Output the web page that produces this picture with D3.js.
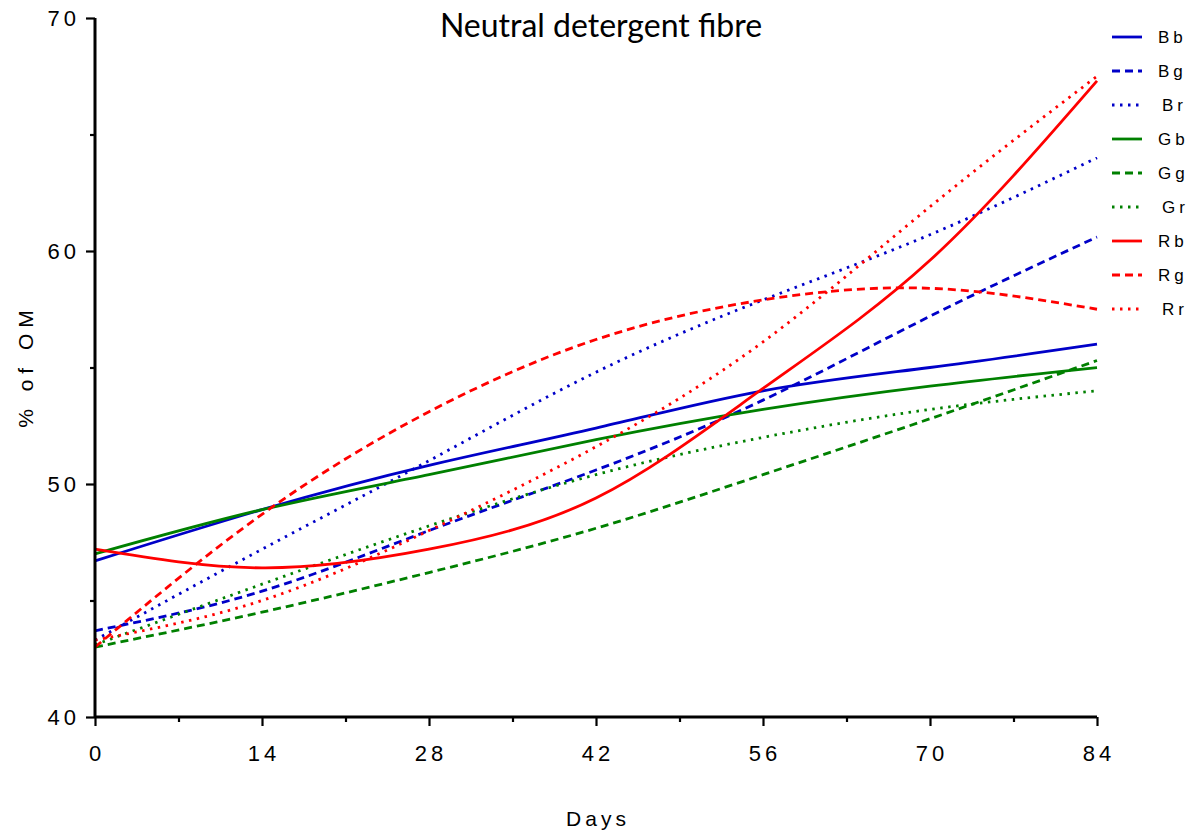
<!DOCTYPE html>
<html>
<head>
<meta charset="utf-8">
<script src="https://cdn.jsdelivr.net/npm/d3@7"></script>
<style>
  body { margin: 0; background: #fff; }
  text { font-family: "Liberation Sans", Arial, sans-serif; }
</style>
</head>
<body>
<div id="chart"></div>
<script>
// data
var days = [0, 14, 28, 42, 56, 70, 84];
var Bb = [46.7, 48.9, 50.8, 52.4, 54.0, 55.0, 56.0];
var Bg = [43.7, 45.4, 48.0, 50.6, 53.6, 57.2, 60.6];
var Br = [43.3, 47.2, 51.0, 54.8, 57.9, 60.7, 64.0];
var Gb = [47.0, 48.9, 50.4, 51.9, 53.2, 54.2, 55.0];
var Gg = [43.0, 44.5, 46.2, 48.1, 50.4, 52.8, 55.3];
var Gr = [43.1, 45.7, 48.2, 50.4, 52.0, 53.2, 54.0];
var Rb = [47.2, 46.4, 47.2, 49.4, 54.1, 59.6, 67.3];
var Rg = [43.0, 48.7, 53.1, 56.2, 57.9, 58.4, 57.5];
var Rr = [43.3, 45.0, 48.0, 51.6, 56.1, 61.9, 67.5];
var seriesNames = ['Bb', 'Bg', 'Br', 'Gb', 'Gg', 'Gr', 'Rb', 'Rg', 'Rr'];
var seriesValues = [Bb, Bg, Br, Gb, Gg, Gr, Rb, Rg, Rr];
var xTicks = [0, 14, 28, 42, 56, 70, 84];
var yTicks = [40, 50, 60, 70];

var chart_width = 1194;
var chart_height = 832;
var colors = { B: '#0000c8', G: '#008000', R: '#ff0000' };
var dashes = { b: null, g: '8,5', r: '2.5,5.5' };

var svg = d3.select('#chart')
	.append('svg')
	.attr('width', chart_width)
	.attr('height', chart_height);

var x = d3.scaleLinear().domain([0, 84]).range([95, 1097]);
var y = d3.scaleLinear().domain([40, 70]).range([717, 18]);

// title
svg.append('text')
	.attr('x', 601)
	.attr('y', 37)
	.attr('text-anchor', 'middle')
	.style('font-family', 'Lato, "Open Sans", sans-serif')
	.attr('font-size', 32)
	.text('Neutral detergent fibre');

// lines
var line = d3.line()
	.x(function(d){ return x(d[0]); })
	.y(function(d){ return y(d[1]); })
	.curve(d3.curveNatural);

seriesNames.forEach(function(name, i){
	var pts = days.map(function(d, j){ return [d, seriesValues[i][j]]; });
	svg.append('path')
		.datum(pts)
		.attr('d', line)
		.attr('fill', 'none')
		.attr('stroke', colors[name[0]])
		.attr('stroke-width', 2.8)
		.attr('stroke-dasharray', dashes[name[1]]);
});

// x axis
var xAxis = svg.append('g')
	.attr('transform', 'translate(0,717)')
	.call(d3.axisBottom(x).tickValues(d3.range(0, 85, 7)).tickSize(8).tickFormat(''));
xAxis.select('.domain').attr('stroke-width', 3).attr('d', 'M95,0H1097');
xAxis.selectAll('.tick line')
	.attr('stroke-width', 2.2)
	.attr('y2', function(d){ return d % 14 === 0 ? 9 : 5; });

svg.selectAll('.xlab')
	.data(xTicks)
	.enter()
	.append('text')
	.attr('class', 'xlab')
	.attr('x', function(d){ return x(d) + 2; })
	.attr('y', 761)
	.attr('text-anchor', 'middle')
	.attr('font-size', 22)
	.attr('letter-spacing', 4)
	.text(function(d){ return d; });

// y axis
var yAxis = svg.append('g')
	.attr('transform', 'translate(95,0)')
	.call(d3.axisLeft(y).tickValues(d3.range(40, 71, 5)).tickSize(8).tickFormat(''));
yAxis.select('.domain').attr('stroke-width', 3).attr('d', 'M0,717V18');
yAxis.selectAll('.tick line')
	.attr('stroke-width', 2.2)
	.attr('x2', function(d){ return d % 10 === 0 ? -9 : -5; });

svg.selectAll('.ylab')
	.data(yTicks)
	.enter()
	.append('text')
	.attr('class', 'ylab')
	.attr('x', 80)
	.attr('y', function(d){ return y(d) + 8; })
	.attr('text-anchor', 'end')
	.attr('font-size', 22)
	.attr('letter-spacing', 4)
	.text(function(d){ return d; });

// axis titles
svg.append('text')
	.attr('x', 598)
	.attr('y', 826)
	.attr('text-anchor', 'middle')
	.attr('font-size', 21)
	.attr('letter-spacing', 4)
	.text('Days');

svg.append('text')
	.attr('transform', 'translate(33,366) rotate(-90)')
	.attr('text-anchor', 'middle')
	.attr('font-size', 21)
	.attr('letter-spacing', 6)
	.text('% of OM');

// legend
var legend = svg.selectAll('.leg')
	.data(seriesNames)
	.enter()
	.append('g')
	.attr('class', 'leg')
	.attr('transform', function(d, i){ return 'translate(0,' + (37 + i * 34) + ')'; });

legend.append('line')
	.attr('x1', 1112)
	.attr('x2', 1142)
	.attr('stroke', function(d){ return colors[d[0]]; })
	.attr('stroke-width', 2.8)
	.attr('stroke-dasharray', function(d){ return dashes[d[1]]; });

legend.append('text')
	.attr('x', function(d){ return d[1] === 'r' ? 1162 : 1158; })
	.attr('y', 6)
	.attr('font-size', 17)
	.attr('letter-spacing', 4)
	.text(function(d){ return d; });
</script>
</body>
</html>
